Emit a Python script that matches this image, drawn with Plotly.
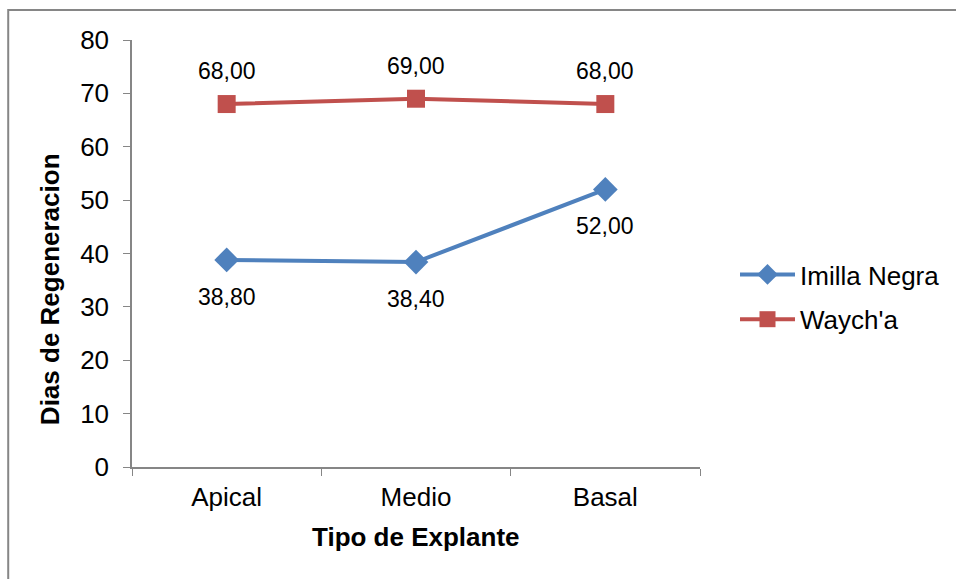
import plotly.graph_objects as go

# Explant types and regeneration days per variety
categories = ["Apical", "Medio", "Basal"]
imilla_negra = [38.80, 38.40, 52.00]
waycha = [68.00, 69.00, 68.00]
y_ticks = [0, 10, 20, 30, 40, 50, 60, 70, 80]

BLUE = "#4F81BD"
RED = "#C0504D"
AXIS = "#868686"
FONT = "Liberation Sans, Arial, sans-serif"

L, R, T, B = 132, 255, 40, 112
PW = 956 - L - R
PH = 579 - T - B


def fmt(v):
    return f"{v:.2f}".replace(".", ",")


fig = go.Figure()
fig.add_trace(go.Scatter(
    x=categories, y=imilla_negra, name="Imilla Negra", mode="lines+markers",
    legendgroup="imilla",
    line=dict(color=BLUE, width=4),
    marker=dict(symbol="diamond", size=19, color=BLUE),
))
fig.add_trace(go.Scatter(
    x=categories, y=waycha, name="Waych'a", mode="lines+markers",
    legendgroup="waycha",
    line=dict(color=RED, width=4),
    marker=dict(symbol="square", size=18, color=RED),
))

annotations = []
for c, v in zip(categories, waycha):
    annotations.append(dict(x=c, y=v, text=fmt(v), showarrow=False, yshift=33,
                            xanchor="center", yanchor="middle",
                            font=dict(size=23, color="black", family=FONT)))
for c, v in zip(categories, imilla_negra):
    annotations.append(dict(x=c, y=v, text=fmt(v), showarrow=False, yshift=-37,
                            xanchor="center", yanchor="middle",
                            font=dict(size=23, color="black", family=FONT)))

# Axis titles
annotations.append(dict(xref="paper", yref="paper", x=(50 - L) / PW, y=(467 - 289) / PH,
                        xanchor="center", yanchor="middle",
                        text="<b>Dias de Regeneracion</b>", textangle=-90,
                        showarrow=False, font=dict(size=26, color="black", family=FONT)))
annotations.append(dict(xref="paper", yref="paper", x=(416 - L) / PW, y=(467 - 537) / PH,
                        xanchor="center", yanchor="middle",
                        text="<b>Tipo de Explante</b>", showarrow=False,
                        font=dict(size=26, color="black", family=FONT)))

fig.update_layout(
    width=956, height=579,
    margin=dict(l=L, r=R, t=T, b=B),
    paper_bgcolor="white", plot_bgcolor="white",
    font=dict(family=FONT, color="black"),
    annotations=annotations,
    showlegend=True,
    legend=dict(x=(735 - L) / PW, y=(467 - 251) / PH, xanchor="left", yanchor="top",
                font=dict(size=26, color="black", family=FONT),
                itemwidth=55, traceorder="grouped", tracegroupgap=8,
                bgcolor="rgba(0,0,0,0)"),
    shapes=[dict(type="rect", xref="paper", yref="paper",
                 x0=(8 - L) / PW, x1=1.6, y0=-0.4, y1=(467 - 10) / PH,
                 line=dict(color=AXIS, width=2), fillcolor="rgba(0,0,0,0)",
                 layer="below")],
)

fig.update_xaxes(
    type="category", range=[-0.5, 2.5], showline=True, linecolor=AXIS, linewidth=1.5,
    ticks="outside", tickson="boundaries", ticklen=7, tickcolor=AXIS,
    tickfont=dict(size=26, color="black", family=FONT),
    ticklabelstandoff=6, showgrid=False, zeroline=False,
)
fig.update_yaxes(
    range=[0, 80], tickvals=y_ticks, showline=True, linecolor=AXIS, linewidth=1.5,
    ticks="outside", ticklen=7, tickcolor=AXIS,
    tickfont=dict(size=26, color="black", family=FONT),
    ticklabelstandoff=9, showgrid=False, zeroline=False,
)

fig.write_html("out.html")
